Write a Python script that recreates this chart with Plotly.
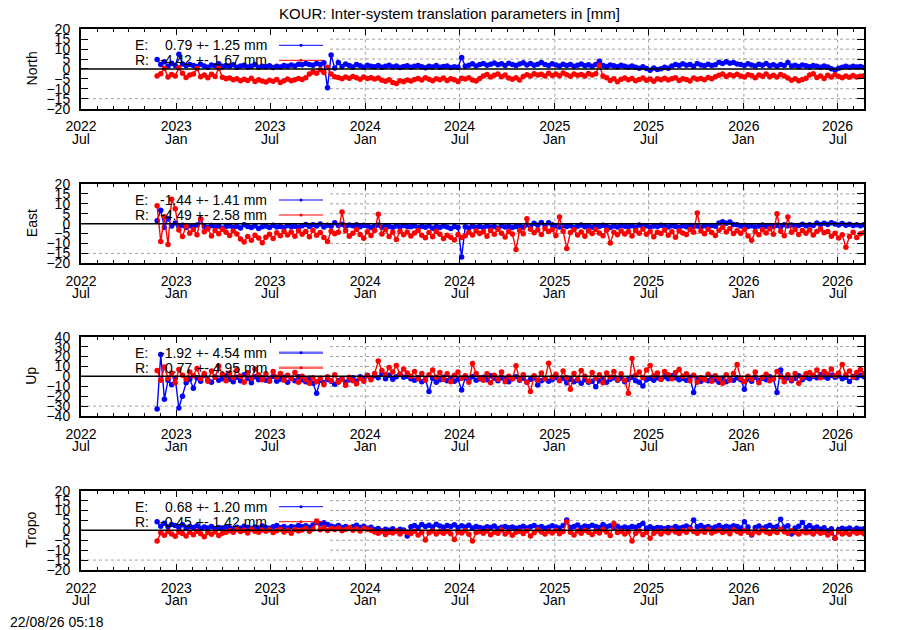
import plotly.graph_objects as go
import pandas as pd

# ---------------- data (weekly samples) ----------------
START_DATE = "2022-11-25"
N_POINTS = 196

NORTH_E = [
    4.8, 2.2, 3.6, 1.4, 2.9, 1.8, 7.4, 2.5, 1.6, 2.3,
    1.8, 1.2, 2.4, 1.5, 0.9, 2.0, 1.6, 2.6, 1.1, 1.7,
    1.3, 2.1, 0.8, 1.5, 1.9, 1.0, 1.4, 2.2, 0.9, 1.3,
    1.1, 1.6, 0.7, 1.4, 1.0, 1.8, 1.3, 2.0, 1.5, 2.4,
    2.1, 2.8, 2.3, 1.9, 2.7, 2.2, 3.1, -9.5, 7.0, 0.5,
    3.2, 1.2, 2.5, 1.8, 1.0, 2.2, 1.6, 0.9, 1.9, 1.4,
    1.1, 1.7, 0.8, 1.3, 1.9, 1.0, 1.5, 0.7, 1.2, 1.6,
    0.9, 1.4, 1.8, 1.1, 0.6, 1.3, 1.0, 1.7, 0.8, 1.2,
    1.5, 0.7, 1.1, 0.9, 5.8, 1.4, 1.9, 2.6, 1.5, 2.2,
    2.8, 1.9, 2.4, 3.0, 2.1, 2.6, 1.8, 2.9, 2.3, 1.7,
    2.5, 3.1, 2.0, 2.7, 1.9, 2.4, 3.3, 2.2, 1.8, 2.6,
    2.0, 1.5, 2.4, 1.7, 2.2, 1.3, 1.9, 2.5, 1.6, 2.1,
    1.4, 2.3, 3.9, 1.8, 1.2, 2.0, 1.6, 1.1, 1.9, 1.4,
    0.8, 1.5, 0.9, 0.4, 1.1, 0.2, -0.6, 0.5, -0.3, 0.1,
    0.8, 0.3, 1.5, 2.3, 1.8, 2.6, 1.9, 2.2, 1.4, 2.8,
    2.0, 1.6, 2.4, 1.8, 2.1, 3.4, 2.7, 3.6, 2.9, 3.2,
    2.5, 2.3, 1.8, 2.6, 2.0, 1.5, 2.4, 1.9, 2.7, 1.6,
    2.1, 1.4, 2.2, 1.7, 3.2, 1.5, 1.9, 1.2, 2.0, 1.6,
    1.1, 1.8, 1.3, 0.9, 1.5, 1.0, 0.1, -0.5, 0.3, 0.8,
    1.3, 0.9, 1.4, 1.0, 1.2, 0.7,
]
NORTH_R = [
    -3.5, -2.4, 0.3, -4.1, -2.8, -3.6, 0.6, -2.2, -4.3, -3.0,
    -2.6, 0.2, -3.9, -3.1, -4.4, -2.7, -3.8, 0.4, -4.2, -5.0,
    -4.6, -5.5, -4.9, -6.0, -5.2, -5.8, -4.7, -6.3, -5.4, -6.1,
    -6.6, -5.7, -6.2, -5.3, -6.8, -5.9, -5.1, -6.0, -5.5, -4.8,
    -5.3, -4.4, -2.6, -1.5, -2.2, -0.4, -1.8, 0.8, -2.5, -3.9,
    -4.3, -5.0, -4.1, -4.7, -3.8, -4.5, -5.2, -4.0, -4.8, -4.4,
    -5.1, -4.6, -5.7, -6.2, -5.4, -6.8, -7.3, -6.0, -6.5, -5.6,
    -6.1, -5.3, -4.8, -5.6, -4.5, -5.2, -6.0, -4.9, -5.5, -4.6,
    -5.8, -4.9, -5.4, -6.3, -4.7, -5.1, -4.4, -5.6, -6.1, -4.8,
    -3.5, -2.8, -4.1, -3.2, -2.5, -3.9, -3.0, -4.6, -5.2, -4.5,
    -5.6, -3.8, -2.9, -3.5, -2.4, -3.1, -2.7, -3.6, -2.2, -3.3,
    -2.6, -3.4, -2.0, -2.9, -3.7, -2.5, -3.2, -2.8, -3.5, -2.3,
    -3.0, -2.4, 1.8, -3.6, -4.5, -5.8, -4.9, -6.4, -5.2, -4.6,
    -5.5, -4.8, -6.0, -5.3, -4.6, -5.7, -5.1, -6.2, -4.9, -5.4,
    -4.7, -5.6, -5.0, -4.4, -5.8, -4.9, -5.3, -6.1, -4.6, -5.2,
    -4.8, -5.5, -4.3, -5.0, -3.9, -3.2, -2.6, -3.8, -2.9, -3.4,
    -2.7, -3.6, -4.1, -2.9, -3.3, -4.4, -3.0, -3.7, -2.5, -3.9,
    -3.2, -4.0, -2.8, -3.5, -4.6, -5.7, -4.9, -6.0, -5.3, -4.7,
    -3.1, -2.4, -4.3, -3.6, -4.8, -3.2, -4.1, -2.9, -3.8, -4.5,
    -3.6, -4.2, -3.3, -4.0, -3.7, -3.4,
]
EAST_E = [
    1.5, 6.8, -2.0, 2.5, -1.2, 0.3, -1.5, -0.8, -1.9, -1.1,
    -1.6, -0.7, 2.3, -1.4, -2.0, -0.9, -1.7, -1.2, -2.3, -1.5,
    -1.0, -1.8, -1.3, -2.2, -0.6, -1.5, -1.9, -1.1, -2.4, -1.6,
    -1.2, -2.0, -0.8, -1.7, -1.4, -2.1, -0.9, -1.6, -1.3, -1.8,
    -1.0, -0.4, -1.5, -0.6, -1.2, -0.2, -1.7, -0.8, -1.3, 0.4,
    -0.9, -0.3, -1.4, -0.7, -1.1, -0.5, -1.6, -0.8, -1.2, -1.9,
    -1.3, -0.7, -1.8, -1.1, -1.5, -2.0, -1.2, -1.7, -0.9, -1.4,
    -1.6, -1.0, -2.1, -1.3, -1.8, -1.1, -2.3, -1.5, -1.9, -1.2,
    -1.7, -2.4, -1.4, -2.0, -16.8, -1.6, -2.2, -1.3, -1.9, -1.5,
    -2.1, -1.2, -1.8, -1.4, -2.3, -1.0, -1.7, -1.3, -2.0, -1.5,
    -1.1, -1.8, -0.6, -1.3, 0.2, -0.8, 0.6, -1.0, 0.4, -0.5,
    -1.2, -1.7, -0.9, -1.5, -1.1, -1.9, -1.3, -0.7, -1.6, -1.2,
    -1.8, -1.0, -1.5, -0.8, -1.4, -2.0, -1.2, -1.7, -0.9, -1.3,
    -1.6, -1.1, -1.9, -0.7, -1.4, -1.0, -1.8, -1.2, -1.5, -0.8,
    -1.3, -1.7, -1.0, -1.5, -1.9, -1.1, -1.6, -0.9, -1.4, -1.2,
    -1.8, -1.0, -1.5, -0.9, -1.3, 0.3, 1.0, 0.2, 0.8, -0.4,
    -0.6, -1.2, -0.8, -1.5, -1.0, -1.7, -1.2, -0.7, -1.4, -0.9,
    -1.3, -0.8, -1.6, -0.5, -1.1, -0.7, -1.4, -0.9, -0.3, -1.0,
    -0.5, -0.9, 0.3, -0.6, 0.2, -0.4, 0.5, -0.2, -0.7, 0.1,
    -0.8, -0.3, -0.9, -0.5, -1.0, -0.6,
]
EAST_R = [
    9.0, -9.0, 3.5, -10.5, 12.3, 7.5, -3.2, -6.5, -1.2, -4.8,
    -3.0, -5.6, 2.4, -4.1, -2.6, -6.2, -3.5, -5.1, -2.8, -4.4,
    -6.0, -3.7, -5.2, -7.8, -9.2, -6.5, -8.4, -5.9, -7.2, -9.6,
    -6.8, -5.4, -7.5, -4.6, -6.1, -3.9, -5.7, -4.2, -6.4, -3.6,
    -5.3, -4.0, -6.6, -3.4, -5.8, -4.5, -7.0, -9.0, -3.8, -5.1,
    -4.3, 5.9, -3.6, -6.3, -4.8, -2.9, -5.5, -7.4, -4.1, -6.0,
    -3.5, 4.7, -5.2, -3.1, -6.5, -4.4, -8.0, -3.8, -5.6, -4.2,
    -6.2, -4.7, -3.4, -5.9, -7.1, -4.5, -6.6, -3.9, -5.3, -7.5,
    -5.8, -6.9, -8.2, -5.5, -7.0, -6.1, -4.4, -5.7, -3.6, -5.0,
    -4.1, -6.3, -3.5, -5.4, -2.8, -4.9, -6.7, -3.9, -5.2, -13.0,
    -3.4, -5.1, 2.5, -2.8, -4.6, -3.2, -5.5, -2.5, -4.0, -3.0,
    -6.0, 3.3, -3.8, -12.5, -4.5, -3.1, -5.7, -4.2, -6.4, -3.6,
    -5.0, -2.9, -4.7, -6.1, -3.3, -9.7, -4.4, -5.6, -3.7, -5.2,
    -4.0, -6.2, -3.5, -4.8, -2.7, -5.4, -3.9, -6.6, -4.3, -5.0,
    -3.2, -5.8, -4.1, -6.9, -3.6, -4.7, -5.5, -3.0, -4.4, 5.4,
    -3.7, -5.1, -2.8, -4.5, -6.0, -3.3, -1.8, -4.2, -2.5, -5.0,
    -3.6, -4.8, -2.9, -6.2, -8.4, -4.0, -5.6, -3.1, -4.7, -2.6,
    -5.3, 5.0, -3.8, -6.1, 3.3, -4.4, -2.9, -5.5, -3.5, -4.9,
    -3.2, -5.7, -4.0, -2.7, -4.6, -3.9, -6.3, -4.8, -7.2, -5.6,
    -11.9, -6.5, -4.3, -7.0, -5.1, -4.6,
]
UP_E = [
    -33.0, 22.0, -23.0, -4.0, -8.5, -2.0, -32.0, -20.0, -6.5, -3.0,
    -12.0, -1.5, -5.0, 1.0, -3.5, -6.0, -0.5, -4.0, -2.5, 0.5,
    -3.0, -5.5, -1.0, -4.5, 1.5, -2.0, -6.5, -0.5, -3.5, -1.5,
    -4.0, -2.5, 0.0, -5.0, -3.0, -1.0, -6.0, -2.0, -4.5, -0.5,
    -3.5, -5.5, -2.0, -7.0, -17.0, -4.0, -6.5, -3.0, -5.0, -8.0,
    -4.5, -2.5, -6.0, -3.5, -1.5, -5.0, -0.5, -3.0, 1.0, -2.0,
    0.5, -1.5, 2.5, -2.5, 1.0, -3.0, -0.5, 2.0, -1.0, 0.0,
    -2.5, -4.0, -1.5, -5.5, -3.0, -15.4, -2.0, -6.0, -3.5, -1.0,
    -4.5, -2.0, -5.0, -3.0, -13.7, -1.5, -3.5, -0.5, -4.0, -2.5,
    -1.0, -3.5, 0.5, -2.0, -4.5, -1.5, -3.0, -5.5, -2.5, -0.5,
    -4.0, -2.0, -6.0, -3.0, -1.5, -8.7, -4.5, -2.5, -5.0, -3.5,
    -1.0, -4.0, -2.0, -6.5, -3.0, -5.5, -4.0, -7.0, -3.5, -6.0,
    -5.0, -10.4, -4.5, -2.5, -6.0, -3.0, -1.5, -4.0, -2.0, -5.5,
    -3.0, -1.0, -4.5, -6.0, -9.7, -3.5, -2.0, -4.0, -1.5, -3.0,
    -0.5, -2.5, 0.5, -1.5, -3.5, -2.0, -4.0, -1.0, -16.4, -3.0,
    -5.0, -2.5, -4.5, -1.0, -3.5, -6.0, -2.0, -5.5, -3.0, -4.0,
    -1.5, -3.5, -13.0, -2.5, -5.0, -1.0, -4.0, -2.0, -3.5, -0.5,
    -2.5, -16.4, 6.4, -3.0, -1.5, -4.5, -2.0, 0.5, -3.5, -1.0,
    -2.5, 0.0, -1.5, 1.5, -0.5, -2.0, 1.0, -1.0, 0.5, -2.5,
    -1.0, -5.3, 0.0, -1.5, 1.0, -0.5,
]
UP_R = [
    6.0, -4.0, 9.5, -2.0, 3.5, -6.5, 7.0, 1.0, -3.0, 4.5,
    0.5, 8.0, -2.5, 3.0, -5.0, 5.5, -1.0, 10.5, 2.0, -4.5,
    3.5, -1.5, 6.5, 0.0, -6.0, 4.0, -2.0, 7.5, 1.5, -3.5,
    2.5, -5.0, 5.0, -1.0, 3.0, -4.0, 1.0, -2.5, 4.0, -6.0,
    0.0, -3.5, -7.0, -1.5, -5.5, -2.0, -8.5, -0.5, -4.5, 1.5,
    -6.0, -3.0, -9.0, -1.0, -4.5, -7.5, -2.0, -5.0, 0.5, -3.5,
    3.0, 15.4, 6.0, 1.5, 9.0, 4.5, 11.0, 2.0, 7.5, 3.5,
    0.0, 5.0, -2.5, 3.0, -4.0, 1.5, 6.5, -1.0, 4.0, -3.0,
    2.5, -5.5, 1.0, 4.5, -2.0, 0.5, -6.0, 13.0, 3.0, -1.5,
    -4.0, 2.5, -6.5, 1.0, -3.0, 4.5, -5.5, 0.0, -2.5, 10.7,
    -3.5, 1.5, -6.0, -15.4, 0.5, -4.0, 3.5, -2.5, 13.1, -1.0,
    2.0, -4.5, 5.5, -1.5, -13.0, 3.0, -3.0, 6.0, 0.0, -5.0,
    4.0, -2.0, 1.5, -6.5, 3.5, -1.0, 5.0, -3.5, 2.5, -4.0,
    -17.0, 18.0, 1.0, 4.5, -1.5, 6.5, 11.0, 0.5, 3.5, -3.0,
    5.0, 1.5, -2.5, 4.0, 7.0, 0.0, 2.5, -4.5, 1.0, -6.0,
    -1.5, -3.5, 2.0, -5.0, 0.5, -2.5, -7.0, 1.5, -4.0, 3.0,
    12.0, -2.0, -5.5, 0.0, -3.0, 4.5, -6.5, -1.0, 2.0, -4.5,
    -2.5, 5.0, -0.5, -5.5, 1.5, -3.5, 3.0, -7.0, -1.0, 2.5,
    4.0, 1.0, 6.5, -1.5, 5.0, 2.0, 7.5, 0.5, 3.5, 12.0,
    1.5, 5.5, -1.0, 4.0, 7.0, 2.5,
]
TROPO_E = [
    4.3, 2.1, 3.6, 1.8, 3.0, 2.4, 1.5, 2.8, 1.2, 1.9,
    1.4, 2.3, 0.9, 1.7, 1.2, 2.0, 0.8, 1.5, 1.1, 1.8,
    1.3, 0.7, 1.6, 1.0, 2.1, 1.4, 0.9, 1.7, 1.2, 2.2,
    1.5, 1.0, 1.8, 2.4, 1.3, 1.9, 1.1, 2.0, 1.6, 2.5,
    1.8, 2.3, 1.6, 2.7, 4.0, 3.2, 3.8, 2.9, 2.2, 1.7,
    2.4, 1.5, 2.0, 1.3, 1.8, 2.6, 1.4, 2.1, 1.0, 1.6,
    0.4, 0.9, -0.2, 0.6, 0.1, 0.8, -0.3, 0.5, 0.2, -2.9,
    1.8, 2.4, 1.5, 2.9, 2.0, 2.6, 1.7, 3.1, 2.2, 1.6,
    2.5, 1.9, 2.8, 1.4, 2.3, 1.7, 2.6, 1.2, 2.0, 1.5,
    1.1, 1.8, 1.4, 2.2, 0.9, 1.6, 2.0, 1.3, 1.7, 1.0,
    1.5, 2.1, 1.2, 1.8, 2.5, 1.4, 2.0, 1.1, 1.6, 2.3,
    1.7, 1.2, 2.4, 5.2, 1.5, 1.9, 2.7, 1.3, 2.2, 1.8,
    2.6, 2.0, 1.4, 2.9, 1.8, 2.3, 1.5, 2.1, 1.0, 1.7,
    1.2, 2.0, 1.6, 2.4, 3.5, 1.1, 1.8, 0.9, 1.5, 1.3,
    0.8, 1.4, 1.0, 1.9, 1.2, 1.6, 2.2, 1.3, 5.2, 1.8,
    2.4, 1.5, 2.0, 1.1, 1.7, 2.5, 1.4, 2.1, 1.6, 2.3,
    1.9, 1.2, 4.4, 1.7, -2.4, 1.5, 2.2, 1.0, 1.8, 2.6,
    1.4, 2.0, 5.6, 1.6, 2.3, -1.8, 1.2, 2.1, 4.0, 1.5,
    2.4, 1.0, 1.7, 0.6, 1.3, -0.2, 0.8, -4.0, 0.4, 1.1,
    0.6, 1.2, 0.2, 1.0, 0.5, 0.8,
]
TROPO_R = [
    -5.4, -1.2, -2.5, -0.6, -1.9, -3.0, -0.8, -1.6, -2.8, -1.0,
    -2.2, -0.5, -1.7, -3.2, -1.1, -2.0, -0.7, -2.6, -1.4, -0.9,
    -0.2, -1.0, 0.4, -0.6, 0.1, -1.3, 0.5, -0.4, -0.9, 0.2,
    -0.5, 0.3, -1.1, -0.2, 0.6, -0.8, 0.0, -1.4, 0.4, -0.3,
    0.2, 1.0, -0.4, 0.7, 4.7, 0.3, 1.4, -0.1, 0.9, 0.4,
    1.2, -0.2, 0.6, 1.5, 0.1, 0.8, -0.3, 1.1, 0.5, 0.0,
    -0.8, -1.5, -0.4, -2.1, -0.9, -1.3, -0.2, -1.8, -0.6, -1.1,
    -1.6, -0.5, -2.3, -0.9, -4.9, -1.2, -0.3, -1.9, -0.7, -1.4,
    -0.4, -1.7, -4.6, -0.8, -1.3, -0.2, -2.0, -5.4, -1.1, -0.6,
    -1.5, -0.3, -2.2, -0.9, -1.4, 0.2, -1.8, -0.7, -2.5, -1.0,
    -0.4, -1.6, -0.2, -2.8, -1.2, 0.3, -0.8, -1.9, -0.5, -1.3,
    -0.1, -1.7, -0.6, 4.4, -1.0, -2.4, -0.3, -1.5, 0.1, -0.9,
    -2.1, -0.5, -1.3, 0.4, -0.8, -2.6, 3.5, -1.1, -0.4, -1.8,
    -0.7, -5.4, -1.5, -0.2, -2.2, -0.9, -4.0, -1.4, -0.5, -1.9,
    -0.3, -1.2, 0.2, -0.8, -1.6, -0.1, -1.0, 0.5, -0.6, -1.4,
    -0.2, -0.9, 0.4, -1.3, -0.5, 0.1, -1.1, -0.3, -1.7, 0.3,
    -0.6, -1.5, -0.1, -1.0, -2.0, -0.4, -1.2, 0.2, -0.8, -1.6,
    -0.3, -1.1, 0.5, -0.7, -1.4, -0.2, -0.9, -1.8, -0.5, -1.2,
    -0.8, -1.9, -0.4, -1.5, -1.0, -2.3, -1.3, -4.0, -0.7, -1.8,
    -1.1, -2.0, -0.6, -1.4, -0.9, -1.7,
]

PANEL_NAMES = ["North", "East", "Up", "Tropo"]
E_SERIES = [NORTH_E, EAST_E, UP_E, TROPO_E]
R_SERIES = [NORTH_R, EAST_R, UP_R, TROPO_R]
E_LABELS = ["0.79 +- 1.25 mm", "-1.44 +- 1.41 mm", "-1.92 +- 4.54 mm", "0.68 +- 1.20 mm"]
R_LABELS = ["-4.42 +- 1.67 mm", "-4.49 +- 2.58 mm", "0.77 +- 4.95 mm", "-0.45 +- 1.42 mm"]
Y_LIMITS = [20, 20, 40, 20]
Y_STEPS = [5, 5, 10, 5]

TICK_DATES = ["2022-07-01", "2023-01-01", "2023-07-01", "2024-01-01", "2024-07-01",
              "2025-01-01", "2025-07-01", "2026-01-01", "2026-07-01"]
TICK_YEARS = ["2022", "2023", "2023", "2024", "2024", "2025", "2025", "2026", "2026"]
TICK_MONTHS = ["Jul", "Jan", "Jul", "Jan", "Jul", "Jan", "Jul", "Jan", "Jul"]
X_RANGE = ["2022-07-01", "2026-08-21"]

TITLE = "KOUR: Inter-system translation parameters in [mm]"
FOOTER = "22/08/26 05:18"

# ---------------- layout geometry (pixels of the 900x630 window) ----------------
OFF = 8                      # page body margin of the html page
W, H = 900 - OFF, 630 - OFF  # figure size so that it fits the window
PX_L, PX_R = 81, 864
PANEL_TOPS = [29.3, 184.0, 336.7, 490.7]
PANEL_H = 79.3
FONT = "Liberation Sans, Arial, Helvetica, sans-serif"
BLUE, RED = "#0000ff", "#ff0000"
GRID_COLOR = "#a0a0a0"
KEY_RIGHT_FRAC = (330 - PX_L) / (PX_R - PX_L)


def xp(px):
    return (px - OFF) / W


def yp(py):
    return 1 - (py - OFF) / H


dates = pd.date_range(START_DATE, periods=N_POINTS, freq="7D")

fig = go.Figure()
shapes = []
annotations = []
layout = dict(
    template="none",
    width=W, height=H,
    margin=dict(l=0, r=0, t=0, b=0, pad=0, autoexpand=False),
    paper_bgcolor="white", plot_bgcolor="white",
    showlegend=False,
    font=dict(family=FONT, size=14, color="black"),
)

for k, name in enumerate(PANEL_NAMES):
    sfx = "" if k == 0 else str(k + 1)
    top = PANEL_TOPS[k]
    bot = top + PANEL_H
    lim, step = Y_LIMITS[k], Y_STEPS[k]

    for series, color in ((E_SERIES[k], BLUE), (R_SERIES[k], RED)):
        fig.add_trace(go.Scatter(
            x=dates, y=series, mode="lines+markers",
            line=dict(color=color, width=1.4),
            marker=dict(color=color, size=5.5, line=dict(width=0)),
            xaxis="x" + sfx, yaxis="y" + sfx, hoverinfo="skip",
        ))

    layout["xaxis" + sfx] = dict(
        domain=[xp(PX_L), xp(PX_R)], anchor="y" + sfx, automargin=False,
        type="date", range=X_RANGE,
        tickmode="array", tickvals=TICK_DATES, ticktext=TICK_YEARS,
        ticks="inside", ticklen=6, tickwidth=1, tickcolor="black",
        showline=True, linecolor="black", linewidth=2, mirror="ticks",
        showgrid=False, zeroline=False,
        tickfont=dict(family=FONT, size=14, color="black"),
        ticklabelstandoff=4,
        minor=dict(ticks="inside", ticklen=3, tickwidth=1, tickcolor="black",
                   dtick="M1", tick0="2022-07-01", showgrid=False),
    )
    layout["yaxis" + sfx] = dict(
        domain=[yp(bot), yp(top)], anchor="x" + sfx, automargin=False,
        range=[-lim, lim], tickmode="linear", tick0=0, dtick=step,
        ticks="inside", ticklen=7, tickwidth=1, tickcolor="black",
        showline=True, linecolor="black", linewidth=2, mirror="ticks",
        showgrid=False, zeroline=False,
        tickfont=dict(family=FONT, size=14, color="black"),
        ticklabelstandoff=6,
    )

    # horizontal dotted grid
    levels = [v for v in range(-lim + step, lim, step) if v != 0]
    for v in levels:
        x0 = 0 if v == levels[0] else KEY_RIGHT_FRAC
        shapes.append(dict(type="line", xref="x%s domain" % sfx, yref="y" + sfx,
                           x0=x0, x1=1, y0=v, y1=v, layer="below",
                           line=dict(color=GRID_COLOR, width=1, dash="dot")))
    # vertical dotted grid (right of the key box)
    for d in TICK_DATES[3:]:
        shapes.append(dict(type="line", xref="x" + sfx, yref="y%s domain" % sfx,
                           x0=d, x1=d, y0=0, y1=1, layer="below",
                           line=dict(color=GRID_COLOR, width=1, dash="dot")))
    # zero line
    shapes.append(dict(type="line", xref="x%s domain" % sfx, yref="y" + sfx,
                       x0=0, x1=1, y0=0, y1=0, layer="above",
                       line=dict(color="black", width=1.5)))

    # month labels (second line of x tick labels)
    for d, m in zip(TICK_DATES, TICK_MONTHS):
        annotations.append(dict(x=d, xref="x" + sfx, y=yp(bot + 30), yref="paper",
                                text=m, showarrow=False, xanchor="center", yanchor="middle",
                                font=dict(family=FONT, size=14, color="black")))

    # y axis title
    annotations.append(dict(x=xp(31.5), y=yp(top + PANEL_H / 2), xref="paper", yref="paper",
                            text=name, textangle=-90, showarrow=False,
                            xanchor="center", yanchor="middle",
                            font=dict(family=FONT, size=14, color="black")))

    # key
    light = (k == 2)
    for row, (lab, txt, color, lcol) in enumerate((
            ("E:", E_LABELS[k], BLUE, "#6a6aff"),
            ("R:", R_LABELS[k], RED, "#ff6a6a"))):
        yrow = top + 16 + 15 * row
        annotations.append(dict(x=xp(133), y=yp(yrow), xref="paper", yref="paper",
                                text=lab, showarrow=False, xanchor="left", yanchor="middle",
                                font=dict(family=FONT, size=14, color="black")))
        annotations.append(dict(x=xp(269), y=yp(yrow), xref="paper", yref="paper",
                                text=txt, showarrow=False, xanchor="right", yanchor="middle",
                                font=dict(family=FONT, size=14, color="black")))
        shapes.append(dict(type="line", xref="paper", yref="paper",
                           x0=xp(279), x1=xp(323), y0=yp(yrow), y1=yp(yrow),
                           line=dict(color=lcol if light else color, width=2.5 if light else 1)))
        shapes.append(dict(type="circle", xref="paper", yref="paper",
                           x0=xp(299.5), x1=xp(302.5), y0=yp(yrow + 1.5), y1=yp(yrow - 1.5),
                           fillcolor=color, line=dict(color=color, width=0)))

annotations.append(dict(x=xp(449.5), y=yp(13.5), xref="paper", yref="paper", text=TITLE,
                        showarrow=False, xanchor="center", yanchor="middle",
                        font=dict(family=FONT, size=15, color="black")))
annotations.append(dict(x=xp(8), y=yp(622), xref="paper", yref="paper", text=FOOTER,
                        showarrow=False, xanchor="left", yanchor="middle",
                        font=dict(family=FONT, size=14, color="black")))

layout["shapes"] = shapes
layout["annotations"] = annotations
fig.update_layout(**layout)
fig.write_html("out.html")
